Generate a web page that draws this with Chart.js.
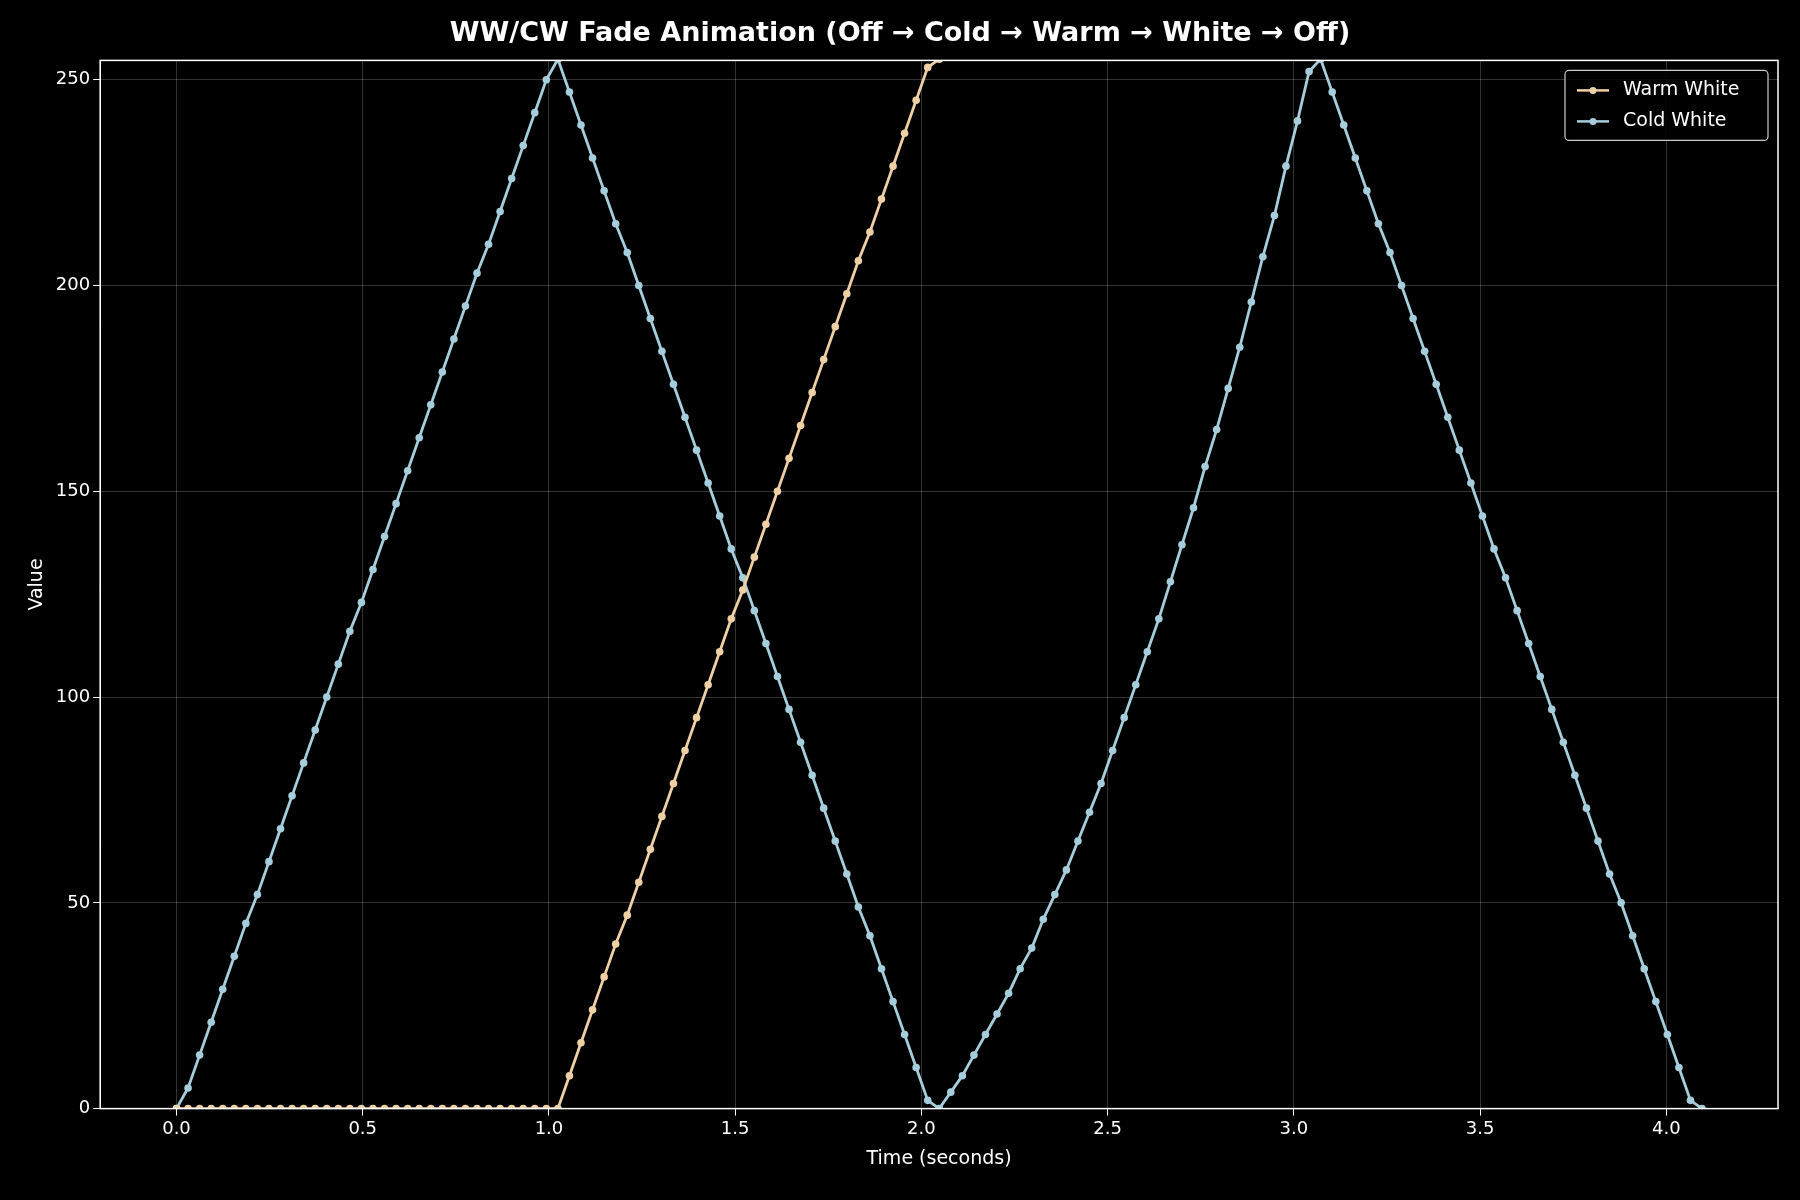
<!DOCTYPE html>
<html><head><meta charset="utf-8">
<script src="https://cdn.jsdelivr.net/npm/chart.js@4.4.0/dist/chart.umd.min.js"></script>
<style>html,body{margin:0;background:#000}#w{width:1800px;height:1200px}</style>
</head><body><div id="w"><canvas id="c"></canvas></div>
<script>
const phaseLen = 1.024;
const coldP1 = [0,5,13,21,29,37,45,52,60,68,76,84,92,100,108,116,123,131,139,147,155,163,171,179,187,195,203,210,218,226,234,242,250,255];
const coldP2 = [255,247,239,231,223,215,208,200,192,184,176,168,160,152,144,136,129,121,113,105,97,89,81,73,65,57,49,42,34,26,18,10,2,0];
const coldP3 = [0,4,8,13,18,23,28,34,39,46,52,58,65,72,79,87,95,103,111,119,128,137,146,156,165,175,185,196,207,217,229,240,252,255];
const coldP4 = [255,247,239,231,223,215,208,200,192,184,176,168,160,152,144,136,129,121,113,105,97,89,81,73,65,57,50,42,34,26,18,10,2,0];
const warmP1 = [0,0,0,0,0,0,0,0,0,0,0,0,0,0,0,0,0,0,0,0,0,0,0,0,0,0,0,0,0,0,0,0,0,0];
const warmP2 = [0,8,16,24,32,40,47,55,63,71,79,87,95,103,111,119,126,134,142,150,158,166,174,182,190,198,206,213,221,229,237,245,253,255];
const xTicks = [0,0.5,1,1.5,2,2.5,3,3.5,4];
const yTicks = [0,50,100,150,200,250];

function pts(phases, startIdx){
  const out=[];
  phases.forEach((arr,k)=>{
    const s=(startIdx+k)*phaseLen, n=arr.length;
    arr.forEach((v,i)=>{ if(k>0&&i===0) return; out.push({x:s+i*phaseLen/(n-1), y:v}); });
  });
  return out;
}
const warmData = pts([warmP1,warmP2],0);
const coldData = pts([coldP1,coldP2,coldP3,coldP4],0);
const WARM='#eed0a4', COLD='#a6cddb';

const legendPlugin={id:'inLegend',afterDraw(ch){
  const c=ch.ctx,a=ch.chartArea;
  const w=203,h=70,x=a.right-w-10,y=a.top+10;
  c.save();
  c.fillStyle='rgba(0,0,0,0.85)';c.strokeStyle='#cccccc';c.lineWidth=1.2;
  c.beginPath();c.roundRect(x,y,w,h,4);c.fill();c.stroke();
  c.font='19px "DejaVu Sans"';c.textBaseline='middle';
  ch.data.datasets.forEach((d,i)=>{
    const yy=y+20+i*31;
    c.strokeStyle=d.borderColor;c.lineWidth=2.5;
    c.beginPath();c.moveTo(x+12,yy);c.lineTo(x+44,yy);c.stroke();
    c.fillStyle=d.borderColor;c.beginPath();c.arc(x+28,yy,3.5,0,7);c.fill();
    c.fillStyle='#fff';c.fillText(d.label,x+58,yy);
  });
  c.restore();
}};
const bgPlugin={id:'bg',beforeDraw(ch){const c=ch.ctx;c.save();c.fillStyle='#000';c.fillRect(0,0,ch.width,ch.height);c.restore();},
  afterDatasetsDraw(ch){const c=ch.ctx,a=ch.chartArea;c.save();c.strokeStyle='#fff';c.lineWidth=1.5;c.strokeRect(a.left,a.top,a.right-a.left,a.bottom-a.top);c.restore();}};

new Chart(document.getElementById('c'),{
  type:'line',
  data:{datasets:[
    {label:'Warm White',data:warmData,borderColor:WARM,backgroundColor:WARM,borderWidth:2.8,pointRadius:3.8,pointBorderWidth:0},
    {label:'Cold White',data:coldData,borderColor:COLD,backgroundColor:COLD,borderWidth:2.8,pointRadius:3.8,pointBorderWidth:0}
  ]},
  options:{responsive:true,maintainAspectRatio:false,animation:false,
    layout:{padding:{left:22,right:22,top:12,bottom:26}},
    plugins:{legend:{display:false},tooltip:{enabled:false},
      title:{display:true,text:'WW/CW Fade Animation (Off → Cold → Warm → White → Off)',color:'#fff',font:{family:'DejaVu Sans',size:27,weight:'bold'},padding:{top:6,bottom:10}}},
    scales:{
      x:{type:'linear',min:-0.205,max:4.3,
        afterBuildTicks(s){s.ticks=xTicks.map(v=>({value:v}));},
        ticks:{color:'#fff',font:{family:'DejaVu Sans',size:18},callback:v=>v.toFixed(1)},
        grid:{color:'rgba(255,255,255,0.2)',tickColor:'#fff',tickLength:7},border:{color:'#fff'},
        title:{display:true,text:'Time (seconds)',color:'#fff',font:{family:'DejaVu Sans',size:19}}},
      y:{min:0,max:254.7,
        afterBuildTicks(s){s.ticks=yTicks.map(v=>({value:v}));},
        ticks:{color:'#fff',font:{family:'DejaVu Sans',size:18}},
        grid:{color:'rgba(255,255,255,0.2)',tickColor:'#fff',tickLength:7},border:{color:'#fff'},
        title:{display:true,text:'Value',color:'#fff',font:{family:'DejaVu Sans',size:19}}}
    }},
  plugins:[bgPlugin,legendPlugin]
});
</script></body></html>
